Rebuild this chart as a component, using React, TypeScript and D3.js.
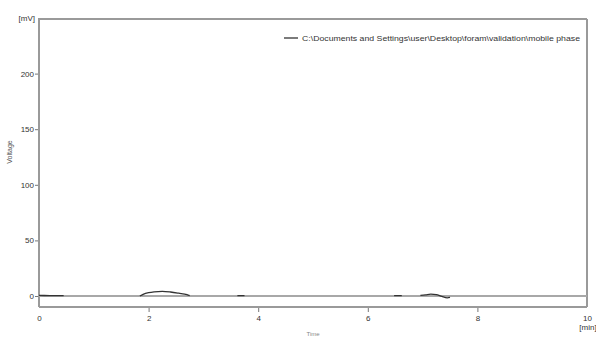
import React, { useEffect, useRef } from "react";
import * as d3 from "d3";

// chromatogram trace (NaN = no visible trace there)
const times = [0, 0.2, 0.45, 0.46, 1.84, 1.9, 2.0, 2.1, 2.25, 2.4, 2.55, 2.7, 2.75, 2.76, 3.62, 3.75, 3.76, 6.48, 6.62, 6.63, 6.96, 7.05, 7.15, 7.25, 7.35, 7.45, 7.5];
const volts = [0.5, 0.4, 0.3, NaN, 0, 1.5, 3, 3.8, 4.2, 3.6, 2.5, 1.2, 0.3, NaN, 0.4, 0.4, NaN, 0.4, 0.4, NaN, 0.6, 1, 1.6, 1.2, -0.4, -1.6, -1.2];
const yTicks = [0, 50, 100, 150, 200];
const xTicks = [0, 2, 4, 6, 8, 10];
const legendLabel = "C:\\Documents and Settings\\user\\Desktop\\foram\\validation\\mobile phase";

const App = () => {
  const ref = useRef<SVGSVGElement>(null);

  useEffect(() => {
    const svg = d3.select(ref.current);
    svg.selectAll("*").remove();

    const left = 39, right = 587, top = 19, bottom = 307;
    const x = d3.scaleLinear().domain([0, 10]).range([left, right]);
    const y = d3.scaleLinear().domain([0, 250]).range([296, 18]);
    const axisColor = "#9a9a9a";
    const textColor = "#333";
    const font = "'Liberation Sans Narrow', 'Liberation Sans', sans-serif";

    // frame
    svg.append("line").attr("x1", left).attr("x2", right).attr("y1", top).attr("y2", top)
      .attr("stroke", axisColor).attr("stroke-width", 2);
    svg.append("line").attr("x1", right).attr("x2", right).attr("y1", top).attr("y2", bottom)
      .attr("stroke", axisColor).attr("stroke-width", 2);

    // y axis
    const yAxis = svg.append("g").attr("transform", `translate(${left},0)`)
      .call(d3.axisLeft(y).tickValues(yTicks).tickSize(4).tickSizeOuter(0).tickPadding(1));
    yAxis.select(".domain").remove();
    yAxis.selectAll("line").attr("stroke", "#777");
    yAxis.selectAll("text").attr("fill", textColor).attr("font-size", 8).attr("font-family", font);
    svg.append("line").attr("x1", left).attr("x2", left).attr("y1", top - 1).attr("y2", bottom)
      .attr("stroke", axisColor).attr("stroke-width", 2);

    // x axis
    const xAxis = svg.append("g").attr("transform", `translate(0,${bottom})`)
      .call(d3.axisBottom(x).tickValues(xTicks).tickSize(5).tickSizeOuter(0).tickPadding(3));
    xAxis.select(".domain").remove();
    xAxis.selectAll("line").attr("stroke", "#777");
    xAxis.selectAll(".tick").filter((d: any) => d === 0 || d === 10).select("line").remove();
    xAxis.selectAll("text").attr("fill", textColor).attr("font-size", 8).attr("font-family", font);
    svg.append("line").attr("x1", left).attr("x2", right).attr("y1", bottom).attr("y2", bottom)
      .attr("stroke", axisColor).attr("stroke-width", 2);

    // units and titles
    svg.append("text").attr("x", 35).attr("y", 21).attr("text-anchor", "end")
      .attr("font-size", 8).attr("font-family", font).attr("fill", textColor).text("[mV]");
    svg.append("text").attr("x", right + 1).attr("y", 330).attr("text-anchor", "middle")
      .attr("font-size", 8).attr("font-family", font).attr("fill", textColor).text("[min]");
    svg.append("text").attr("x", 313).attr("y", 336).attr("text-anchor", "middle")
      .attr("font-size", 6).attr("font-family", font).attr("fill", "#888").text("Time");
    svg.append("text").attr("transform", "translate(12,152) rotate(-90)").attr("text-anchor", "middle")
      .attr("font-size", 7).attr("font-family", font).attr("fill", "#555").text("Voltage");

    // baseline
    svg.append("line").attr("x1", left).attr("x2", right).attr("y1", y(0)).attr("y2", y(0))
      .attr("stroke", "#a8a8a8").attr("stroke-width", 2);

    // trace
    const pts = times.map((t, i) => [t, volts[i]] as [number, number]);
    const line = d3.line<[number, number]>()
      .defined(d => !isNaN(d[1]))
      .x(d => x(d[0])).y(d => y(d[1]))
      .curve(d3.curveMonotoneX);
    svg.append("path").datum(pts).attr("d", line).attr("fill", "none")
      .attr("stroke", "#333").attr("stroke-width", 1.3);

    // legend
    svg.append("line").attr("x1", 284).attr("x2", 298).attr("y1", 38).attr("y2", 38)
      .attr("stroke", "#333").attr("stroke-width", 1.3);
    svg.append("text").attr("x", 302).attr("y", 41).attr("font-size", 8).attr("font-family", font)
      .attr("fill", textColor).attr("textLength", 278).attr("lengthAdjust", "spacingAndGlyphs")
      .text(legendLabel);
  }, []);

  return (
    <svg ref={ref} width={596} height={338}
      style={{ position: "absolute", left: 0, top: 0, background: "#fff" }} />
  );
};

export default App;
